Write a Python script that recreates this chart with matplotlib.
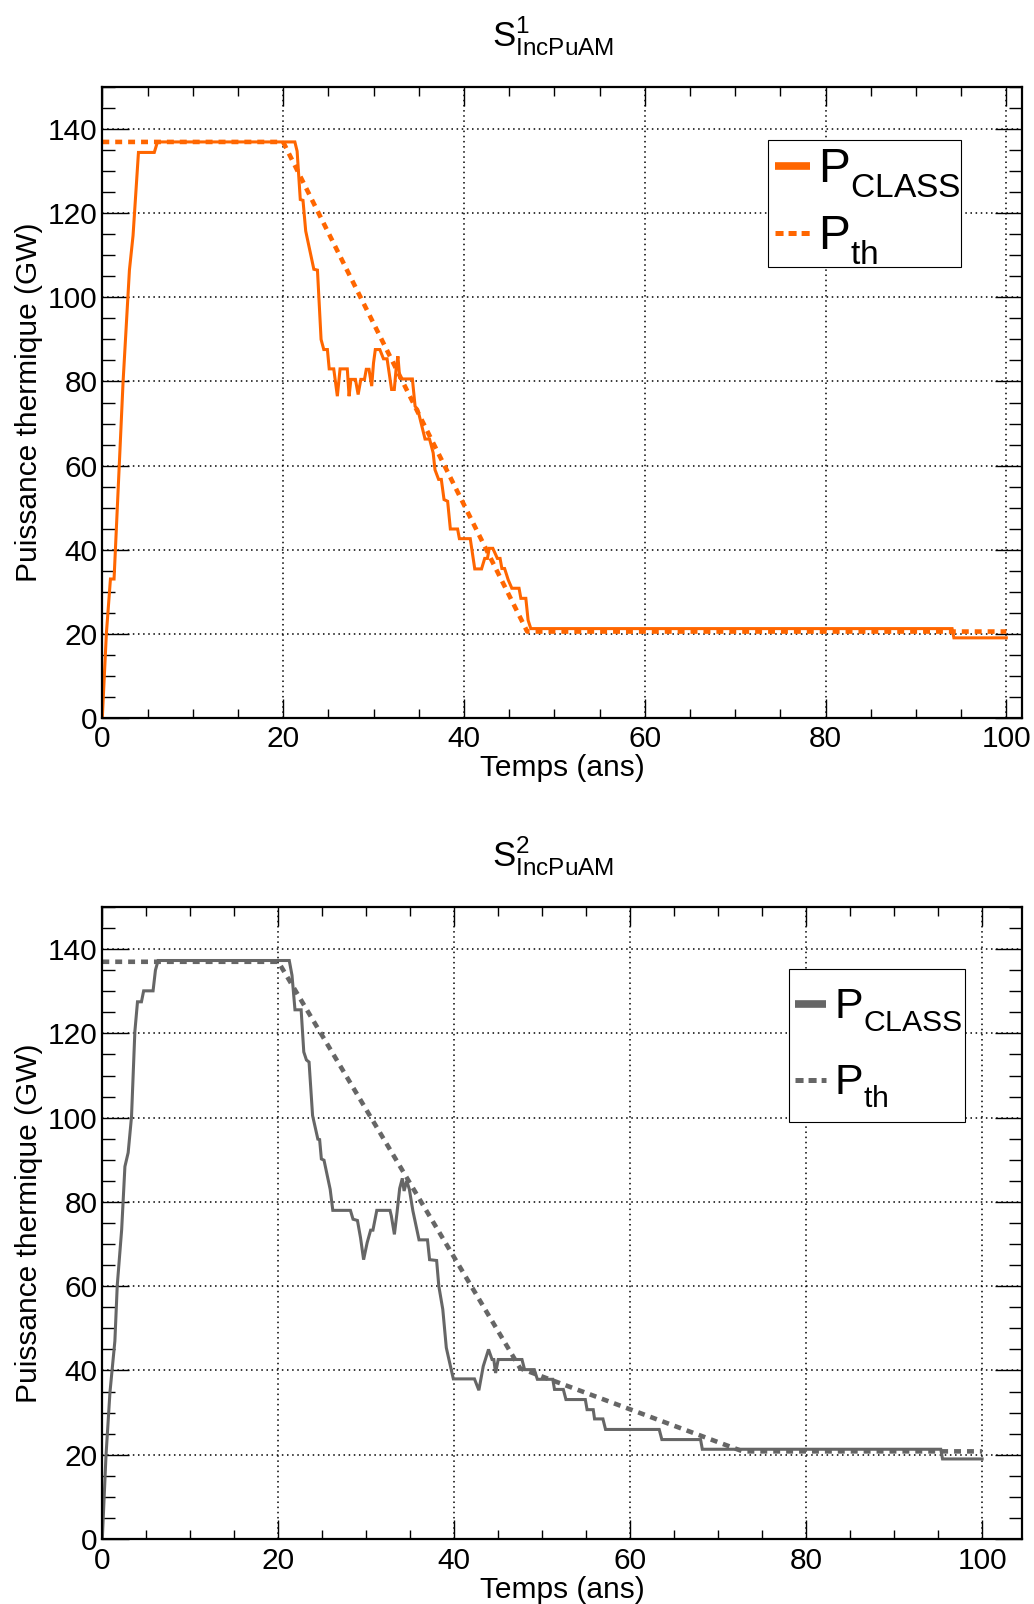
import matplotlib
matplotlib.use('Agg')
import matplotlib.pyplot as plt
from matplotlib.ticker import MultipleLocator
from matplotlib.patches import Rectangle

plt.rcParams['font.family'] = ['Liberation Sans', 'DejaVu Sans']
plt.rcParams['mathtext.fontset'] = 'custom'
plt.rcParams['mathtext.rm'] = 'Liberation Sans'
plt.rcParams['mathtext.it'] = 'Liberation Sans:italic'
plt.rcParams['lines.scale_dashes'] = False
# lower single subscripts a little (ROOT-like placement of P_CLASS / P_th)
try:
    import matplotlib._mathtext as _mt
    _mt.FontConstantsBase.sub1 = 0.58
except Exception:
    pass

# ---------------- data ----------------
titles = [r'$\mathregular{S^{1}_{IncPuAM}}$', r'$\mathregular{S^{2}_{IncPuAM}}$']
xlabel = 'Temps (ans)'
ylabel = 'Puissance thermique (GW)'
legend_labels = [r'$\mathregular{P_{CLASS}}$', r'$\mathregular{P_{th}}$']

# Scenario 1 : simulated power (CLASS)
t_class_1 = [0, 0.45, 0.9, 1.3, 2.3, 3.0, 3.4, 4.0, 5.75, 6.1, 21.3, 21.55, 21.9, 22.2,
             22.5, 23.4, 23.8, 24.2, 24.5, 24.9, 25.1, 25.6, 26.0, 26.3, 27.1, 27.3, 27.5,
             28.0, 28.3, 28.6, 29.0, 29.2, 29.5, 29.8, 30.0, 30.2, 30.7, 31.1, 31.5, 32.0,
             32.3, 32.5, 32.7, 32.9, 33.2, 34.3, 34.6, 34.9, 35.3, 35.7, 36.2, 36.6, 36.8,
             37.2, 37.5, 37.8, 38.2, 38.5, 39.3, 39.5, 40.7, 41.2, 41.95, 42.3, 42.6, 42.8,
             43.2, 43.7, 44.0, 44.2, 44.5, 44.9, 45.3, 46.1, 46.3, 46.85, 47.1, 47.4, 94.0,
             94.2, 100]
p_class_1 = [0, 20, 33, 33, 80, 106.5, 114.7, 134.5, 134.5, 137, 137, 134.8, 123.3, 123.1,
             115.8, 106.7, 106.5, 90, 87.6, 87.6, 83, 83, 76.5, 83, 83, 76.5, 80.5,
             80.5, 76.9, 80.5, 80.5, 82.9, 82.9, 78.9, 84.4, 87.6, 87.6, 85.4, 85.4, 78.1,
             78.1, 83, 86, 80.9, 80.6, 80.6, 74.1, 73.3, 69.8, 66.3, 66.3, 63, 59,
             56.7, 56.7, 51.9, 51.5, 44.9, 44.9, 42.6, 42.6, 35.4, 35.4, 37.9, 37.9, 40.3,
             40.3, 37.9, 37.9, 35.5, 35.5, 32.8, 30.8, 30.8, 28.4, 28.4, 23.2, 21.2, 21.2,
             19, 19]
# Scenario 1 : theoretical power
t_th_1 = [0, 20, 47, 100]
p_th_1 = [137, 137, 20.5, 20.5]

# Scenario 2 : simulated power (CLASS)
t_class_2 = [0, 0.42, 0.87, 1.43, 1.7, 2.2, 2.57, 2.94, 3.32, 3.7, 4.0, 4.45, 4.7, 5.77,
             6.04, 6.34, 21.25, 21.56, 21.9, 22.6, 22.9, 23.2, 23.5, 23.9, 24.5, 24.7, 24.9,
             25.2, 25.9, 26.2, 28.2, 28.5, 29.0, 29.35, 29.7, 30.1, 30.5, 30.76, 31.2, 32.7,
             32.85, 33.2, 33.5, 33.8, 34.1, 34.3, 34.6, 34.9, 35.3, 36.0, 36.96, 37.2, 38.0,
             38.25, 38.7, 39.1, 39.4, 39.9, 42.3, 42.8, 43.3, 43.9, 44.3, 44.5, 44.7, 45.0,
             47.7, 48.0, 49.1, 49.45, 51.2, 51.4, 52.4, 52.7, 54.9, 55.1, 55.8, 55.95, 56.9,
             57.2, 63.3, 63.6, 68.0, 68.2, 95.3, 95.5, 100]
p_class_2 = [0, 19.8, 34.8, 47, 60.2, 73.4, 88.4, 91.7, 100.2, 120.4, 127.5, 127.5, 130.1, 130.1,
             135, 137.3, 137.3, 133.8, 125.6, 125.6, 115.6, 113.7, 113.2, 100.5, 94.9, 94.8, 90.2,
             89.9, 83, 78, 78, 75.9, 75.6, 71.5, 66.3, 70.3, 73.3, 73.3, 78, 78,
             76.7, 72.3, 77.5, 83.2, 85.6, 82.6, 85, 83, 77.9, 71, 71, 66.3, 66.1,
             60, 54.5, 45.4, 42.6, 38, 38, 35.3, 41, 45, 42.6, 42.6, 39.4, 42.6,
             42.6, 40.2, 40.2, 37.9, 37.9, 35.5, 35.5, 33.1, 33.1, 30.7, 30.7, 28.5, 28.5,
             26, 26, 23.6, 23.6, 21.3, 21.3, 19, 19]
# Scenario 2 : theoretical power
t_th_2 = [0, 20, 47.5, 72.8, 100]
p_th_2 = [137, 137, 40.5, 20.8, 20.8]

colors = ['#ff6600', '#666666']
xmax = [101.7, 104.5]

# ---------------- figure ----------------
W, H = 1034, 1604
fig = plt.figure(figsize=(W / 100, H / 100), dpi=100)

ax_boxes = [(102.3, 87.3, 1021.7, 717.7), (102.3, 907.0, 1021.7, 1539.0)]
axes = []
for (l, t, r, b) in ax_boxes:
    axes.append(fig.add_axes([l / W, 1 - b / H, (r - l) / W, (b - t) / H]))

series = [(t_class_1, p_class_1, t_th_1, p_th_1), (t_class_2, p_class_2, t_th_2, p_th_2)]
title_y = [46, 866]
# legend frame (pixel box) and content anchor (handle start, top of text)
legend_frame = [(768, 140, 961, 267), (789, 969, 965, 1122)]
legend_anchor = [(775, 148), (795, 988)]
legend_fs = [34.5, 31]
legend_ls = [0.30, 0.69]
legend_tp = [0.17, 0.19]

for i, ax in enumerate(axes):
    tc, pc, tt, pt = series[i]
    c = colors[i]
    ax.plot(tc, pc, color=c, lw=2.2, solid_joinstyle='miter', zorder=3,
            label=legend_labels[0])
    ax.plot(tt, pt, color=c, lw=3.3, dashes=(5.0, 4.3), zorder=4,
            label=legend_labels[1])

    ax.set_xlim(0, xmax[i])
    ax.set_ylim(0, 150)
    ax.xaxis.set_major_locator(MultipleLocator(20))
    ax.xaxis.set_minor_locator(MultipleLocator(5))
    ax.yaxis.set_major_locator(MultipleLocator(20))
    ax.yaxis.set_minor_locator(MultipleLocator(5))
    ax.tick_params(which='both', direction='in', top=True, right=True, width=1.0,
                   labelsize=21.5, colors='black')
    ax.tick_params(axis='x', which='major', length=13.4, pad=5.5)
    ax.tick_params(axis='x', which='minor', length=6.7)
    ax.tick_params(axis='y', which='major', length=19.5, pad=3.6)
    ax.tick_params(axis='y', which='minor', length=9.7)
    ax.grid(True, which='major', color='black', lw=1.1, linestyle=(0, (1.1, 2.6)))
    ax.set_axisbelow(True)
    for s in ax.spines.values():
        s.set_linewidth(1.6)
        s.set_zorder(6)

    ax.set_xlabel(xlabel, fontsize=21.5)
    ax.xaxis.set_label_coords(0.5, -0.058)
    ax.set_ylabel(ylabel, fontsize=21.5)
    ax.yaxis.set_label_coords(-0.0645, 0.5)

    fig.text(553 / W, 1 - title_y[i] / H, titles[i], ha='center', va='baseline',
             fontsize=25)

    fl, ft, fr, fb = legend_frame[i]
    rect = Rectangle((fl / W, 1 - fb / H), (fr - fl) / W, (fb - ft) / H,
                     transform=fig.transFigure, facecolor='white', edgecolor='black',
                     lw=0.8, zorder=9, clip_on=False)
    ax.add_patch(rect)

    ax_l, ax_t = legend_anchor[i]
    leg = ax.legend(loc='upper left', bbox_to_anchor=(ax_l / W, 1 - ax_t / H),
                    bbox_transform=fig.transFigure, borderaxespad=0, borderpad=0,
                    fontsize=legend_fs[i], frameon=False, handlelength=0.72,
                    handletextpad=legend_tp[i], labelspacing=legend_ls[i])
    hs = leg.legend_handles
    hs[0].set_linewidth(5.5)
    hs[0].set_solid_capstyle('butt')
    hs[1].set_linewidth(3.6)
    hs[1].set_dashes((5.8, 3.6))
    leg.set_zorder(10)

fig.savefig('out.png', dpi=100)
